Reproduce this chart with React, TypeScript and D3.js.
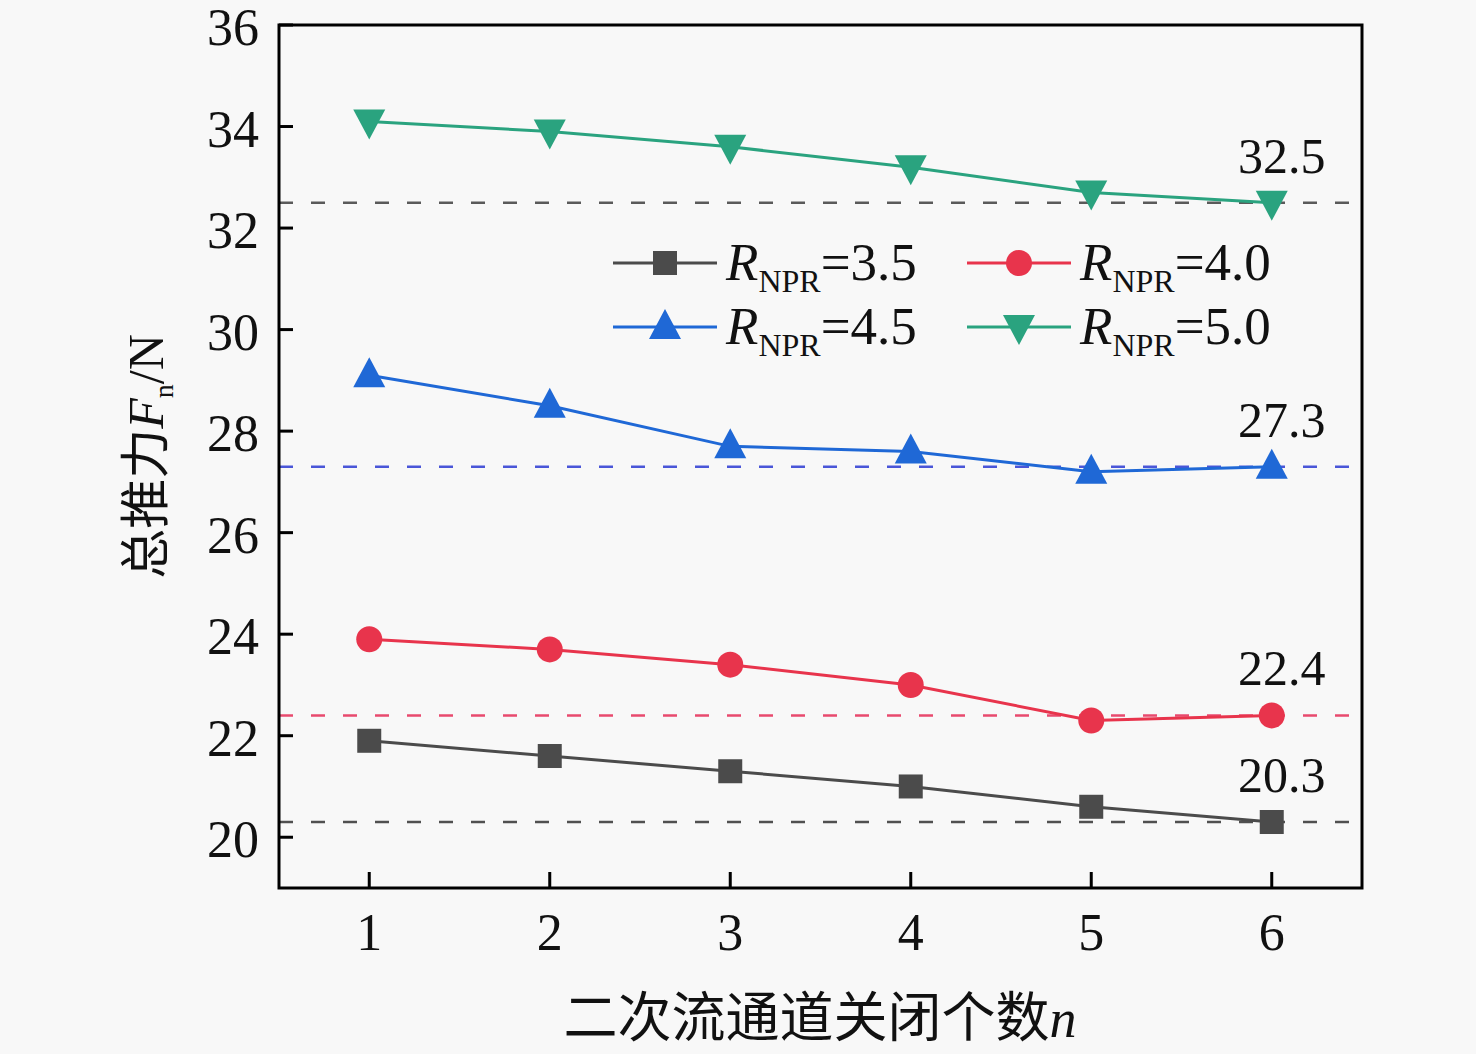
import * as d3 from "d3";

const closedCounts = [1, 2, 3, 4, 5, 6];
const npr35 = [21.9, 21.6, 21.3, 21.0, 20.6, 20.3];
const npr40 = [23.9, 23.7, 23.4, 23.0, 22.3, 22.4];
const npr45 = [29.1, 28.5, 27.7, 27.6, 27.2, 27.3];
const npr50 = [34.1, 33.9, 33.6, 33.2, 32.7, 32.5];
const seriesValues = ["3.5", "4.0", "4.5", "5.0"];
const refValues = [32.5, 27.3, 22.4, 20.3];
const yTicks = [20, 22, 24, 26, 28, 30, 32, 34, 36];

const W = 1476;
const H = 1054;
const m = { left: 279, top: 25, right: 1362, bottom: 888 };
const serif = "'Liberation Serif', 'Times New Roman', serif";
const cjk = "'Noto Sans CJK SC', sans-serif";

type Shape = "square" | "circle" | "up" | "down";

const series: { values: number[]; color: string; shape: Shape; label: string }[] = [
  { values: npr35, color: "#4b4b4b", shape: "square", label: seriesValues[0] },
  { values: npr40, color: "#e8344c", shape: "circle", label: seriesValues[1] },
  { values: npr45, color: "#1f68d6", shape: "up", label: seriesValues[2] },
  { values: npr50, color: "#2aa37f", shape: "down", label: seriesValues[3] },
];
const refColors = ["#5a5a5a", "#4a56d8", "#e84a6e", "#505050"];

function Marker({ shape, x, y, color }: { shape: Shape; x: number; y: number; color: string }) {
  if (shape === "square") return <rect x={x - 12} y={y - 12} width={24} height={24} fill={color} />;
  if (shape === "circle") return <circle cx={x} cy={y} r={13} fill={color} />;
  const s = 16;
  if (shape === "up")
    return <path d={`M${x},${y - s - 2}L${x + s},${y + s - 4}L${x - s},${y + s - 4}Z`} fill={color} />;
  return <path d={`M${x},${y + s + 2}L${x + s},${y - s + 4}L${x - s},${y - s + 4}Z`} fill={color} />;
}

export default function App() {
  const x = d3.scaleLinear().domain([0.5, 6.5]).range([m.left, m.right]);
  const y = d3.scaleLinear().domain([19, 36]).range([m.bottom, m.top]);
  const line = d3
    .line<number>()
    .x((_, i) => x(closedCounts[i]))
    .y((d) => y(d));

  const legendPos = [
    { lx: 613, ly: 263 },
    { lx: 967, ly: 263 },
    { lx: 613, ly: 327 },
    { lx: 967, ly: 327 },
  ];

  return (
    <svg
      width={W}
      height={H}
      style={{ position: "absolute", left: 0, top: 0 }}
      viewBox={`0 0 ${W} ${H}`}
    >
      <rect width={W} height={H} fill="#f8f8f8" />

      {/* reference dashed lines */}
      {refValues.map((v, i) => (
        <line
          key={v}
          x1={m.left}
          x2={m.right}
          y1={y(v)}
          y2={y(v)}
          stroke={refColors[i]}
          strokeWidth={2.5}
          strokeDasharray="14,18"
        />
      ))}

      {/* series */}
      {series.map((s) => (
        <g key={s.label}>
          <path d={line(s.values) ?? ""} fill="none" stroke={s.color} strokeWidth={3} />
          {s.values.map((v, i) => (
            <Marker key={i} shape={s.shape} x={x(closedCounts[i])} y={y(v)} color={s.color} />
          ))}
        </g>
      ))}

      {/* reference value labels */}
      {refValues.map((v) => (
        <text
          key={v}
          x={x(6) + 10}
          y={y(v) - 30}
          textAnchor="middle"
          fontFamily={serif}
          fontSize={50}
          fill="#111"
        >
          {v.toFixed(1)}
        </text>
      ))}

      {/* axes frame */}
      <rect
        x={m.left}
        y={m.top}
        width={m.right - m.left}
        height={m.bottom - m.top}
        fill="none"
        stroke="#000"
        strokeWidth={3}
      />

      {/* y ticks */}
      {yTicks.map((t) => (
        <g key={t}>
          <line x1={m.left} x2={m.left + 14} y1={y(t)} y2={y(t)} stroke="#000" strokeWidth={3} />
          <text
            x={m.left - 20}
            y={y(t) + 20}
            textAnchor="end"
            fontFamily={serif}
            fontSize={52}
            fill="#111"
          >
            {t}
          </text>
        </g>
      ))}

      {/* x ticks */}
      {closedCounts.map((t) => (
        <g key={t}>
          <line x1={x(t)} x2={x(t)} y1={m.bottom} y2={m.bottom - 16} stroke="#000" strokeWidth={3} />
          <text
            x={x(t)}
            y={m.bottom + 62}
            textAnchor="middle"
            fontFamily={serif}
            fontSize={52}
            fill="#111"
          >
            {t}
          </text>
        </g>
      ))}

      {/* legend */}
      {series.map((s, i) => {
        const { lx, ly } = legendPos[i];
        return (
          <g key={s.label}>
            <line x1={lx} x2={lx + 104} y1={ly} y2={ly} stroke={s.color} strokeWidth={3} />
            <Marker shape={s.shape} x={lx + 52} y={ly} color={s.color} />
            <text x={lx + 113} y={ly + 17} fontFamily={serif} fontSize={53} fill="#111">
              <tspan fontStyle="italic">R</tspan>
              <tspan fontSize={32} dy={12}>NPR</tspan>
              <tspan dy={-12}>={s.label}</tspan>
            </text>
          </g>
        );
      })}

      {/* axis titles */}
      <text
        transform={`translate(163,${(m.top + m.bottom) / 2}) rotate(-90)`}
        textAnchor="middle"
        fontSize={50}
        fill="#111"
      >
        <tspan fontFamily={cjk}>总推力</tspan>
        <tspan fontFamily={serif} fontStyle="italic">F</tspan>
        <tspan fontFamily={serif} fontSize={28} dy={10}>n</tspan>
        <tspan fontFamily={serif} dy={-10}>/N</tspan>
      </text>
      <text
        x={820}
        y={1037}
        textAnchor="middle"
        fontSize={54}
        fill="#111"
      >
        <tspan fontFamily={cjk}>二次流通道关闭个数</tspan>
        <tspan fontFamily={serif} fontStyle="italic">n</tspan>
      </text>
    </svg>
  );
}
